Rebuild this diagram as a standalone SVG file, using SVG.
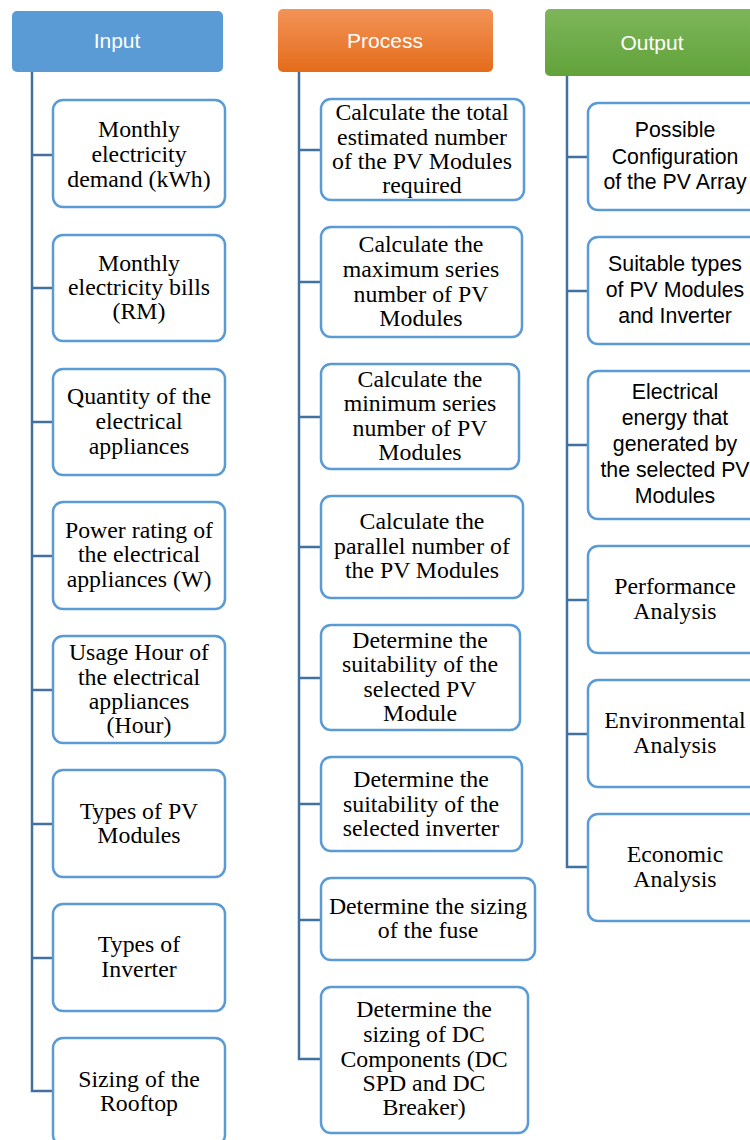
<svg xmlns="http://www.w3.org/2000/svg" width="750" height="1140" viewBox="0 0 750 1140">
<defs>
<linearGradient id="gOr" x1="0" y1="0" x2="0" y2="1"><stop offset="0" stop-color="#F39358"/><stop offset="1" stop-color="#E46C1A"/></linearGradient>
<linearGradient id="gGr" x1="0" y1="0" x2="0" y2="1"><stop offset="0" stop-color="#7DB65A"/><stop offset="1" stop-color="#62A23A"/></linearGradient>
<style>
.box{fill:#fff;stroke:#5B9BD5;stroke-width:2.5}
.conn{fill:none;stroke:#41719C;stroke-width:2.5}
.serif{font-family:"Liberation Serif","Times New Roman",serif;font-size:23.8px;fill:#000;text-anchor:middle}
.sans{font-family:"Liberation Sans",Arial,sans-serif;font-size:21.3px;fill:#000;text-anchor:middle}
.hdr{font-family:"Liberation Sans",Arial,sans-serif;font-size:21px;fill:#fff;text-anchor:middle}
</style>
</defs>
<rect width="750" height="1140" fill="#fff"/>
<g id="connectors">
<path class="conn" d="M32,72 V1091 H53 M32,155 H53 M32,288 H53 M32,422 H53 M32,556 H53 M32,690 H53 M32,824 H53 M32,958 H53"/>
<path class="conn" d="M299,72 V1059 H321 M299,150 H321 M299,282 H321 M299,417 H321 M299,547 H321 M299,678 H321 M299,804 H321 M299,920 H321"/>
<path class="conn" d="M567,76 V867 H588 M567,157 H588 M567,291 H588 M567,445 H588 M567,600 H588 M567,734 H588"/>
</g>
<g id="hdr-input"><rect x="12" y="11" width="211" height="61" rx="5" fill="#5B9BD5"/><text class="hdr" x="117" y="48">Input</text></g>
<g id="hdr-process"><rect x="278" y="9" width="215" height="63" rx="5" fill="url(#gOr)"/><text class="hdr" x="385" y="48">Process</text></g>
<g id="hdr-output"><rect x="545" y="9" width="215" height="67" rx="5" fill="url(#gGr)"/><text class="hdr" x="652" y="50">Output</text></g>

<g id="in1"><rect class="box" x="53" y="100" width="172" height="107" rx="10"/><text class="serif"><tspan x="139" y="137">Monthly</tspan><tspan x="139" y="162">electricity</tspan><tspan x="139" y="187">demand (kWh)</tspan></text></g>
<g id="in2"><rect class="box" x="53" y="235" width="172" height="106" rx="10"/><text class="serif"><tspan x="139" y="271">Monthly</tspan><tspan x="139" y="295">electricity bills</tspan><tspan x="139" y="319">(RM)</tspan></text></g>
<g id="in3"><rect class="box" x="53" y="369" width="172" height="106" rx="10"/><text class="serif"><tspan x="139" y="404">Quantity of the</tspan><tspan x="139" y="429">electrical</tspan><tspan x="139" y="454">appliances</tspan></text></g>
<g id="in4"><rect class="box" x="53" y="502" width="172" height="107" rx="10"/><text class="serif"><tspan x="139" y="538">Power rating of</tspan><tspan x="139" y="562">the electrical</tspan><tspan x="139" y="587">appliances (W)</tspan></text></g>
<g id="in5"><rect class="box" x="53" y="636" width="172" height="107" rx="10"/><text class="serif"><tspan x="139" y="660">Usage Hour of</tspan><tspan x="139" y="685">the electrical</tspan><tspan x="139" y="709">appliances</tspan><tspan x="139" y="733">(Hour)</tspan></text></g>
<g id="in6"><rect class="box" x="53" y="770" width="172" height="107" rx="10"/><text class="serif"><tspan x="139" y="819">Types of PV</tspan><tspan x="139" y="843">Modules</tspan></text></g>
<g id="in7"><rect class="box" x="53" y="904" width="172" height="107" rx="10"/><text class="serif"><tspan x="139" y="952">Types of</tspan><tspan x="139" y="977">Inverter</tspan></text></g>
<g id="in8"><rect class="box" x="53" y="1038" width="172" height="107" rx="10"/><text class="serif"><tspan x="139" y="1087">Sizing of the</tspan><tspan x="139" y="1111">Rooftop</tspan></text></g>

<g id="p1"><rect class="box" x="321" y="99" width="203" height="101" rx="10"/><text class="serif"><tspan x="422" y="120">Calculate the total</tspan><tspan x="422" y="145">estimated number</tspan><tspan x="422" y="169">of the PV Modules</tspan><tspan x="422" y="193">required</tspan></text></g>
<g id="p2"><rect class="box" x="321" y="227" width="201" height="110" rx="10"/><text class="serif"><tspan x="421" y="252">Calculate the</tspan><tspan x="421" y="277">maximum series</tspan><tspan x="421" y="302">number of PV</tspan><tspan x="421" y="326">Modules</tspan></text></g>
<g id="p3"><rect class="box" x="321" y="364" width="198" height="105" rx="10"/><text class="serif"><tspan x="420" y="387">Calculate the</tspan><tspan x="420" y="411">minimum series</tspan><tspan x="420" y="436">number of PV</tspan><tspan x="420" y="460">Modules</tspan></text></g>
<g id="p4"><rect class="box" x="321" y="496" width="202" height="102" rx="10"/><text class="serif"><tspan x="422" y="529">Calculate the</tspan><tspan x="422" y="554">parallel number of</tspan><tspan x="422" y="578">the PV Modules</tspan></text></g>
<g id="p5"><rect class="box" x="321" y="625" width="199" height="105" rx="10"/><text class="serif"><tspan x="420" y="648">Determine the</tspan><tspan x="420" y="672">suitability of the</tspan><tspan x="420" y="697">selected PV</tspan><tspan x="420" y="721">Module</tspan></text></g>
<g id="p6"><rect class="box" x="321" y="757" width="201" height="94" rx="10"/><text class="serif"><tspan x="421" y="787">Determine the</tspan><tspan x="421" y="812">suitability of the</tspan><tspan x="421" y="836">selected inverter</tspan></text></g>
<g id="p7"><rect class="box" x="321" y="878" width="214" height="82" rx="10"/><text class="serif"><tspan x="428" y="914">Determine the sizing</tspan><tspan x="428" y="938">of the fuse</tspan></text></g>
<g id="p8"><rect class="box" x="321" y="987" width="207" height="146" rx="10"/><text class="serif"><tspan x="424" y="1017">Determine the</tspan><tspan x="424" y="1042">sizing of DC</tspan><tspan x="424" y="1067">Components (DC</tspan><tspan x="424" y="1091">SPD and DC</tspan><tspan x="424" y="1115">Breaker)</tspan></text></g>

<g id="o1"><rect class="box" x="588" y="103" width="175" height="107" rx="10"/><text class="sans"><tspan x="675" y="137">Possible</tspan><tspan x="675" y="164">Configuration</tspan><tspan x="675" y="189">of the PV Array</tspan></text></g>
<g id="o2"><rect class="box" x="588" y="237" width="175" height="107" rx="10"/><text class="sans"><tspan x="675" y="271">Suitable types</tspan><tspan x="675" y="297">of PV Modules</tspan><tspan x="675" y="323">and Inverter</tspan></text></g>
<g id="o3"><rect class="box" x="588" y="371" width="175" height="148" rx="10"/><text class="sans"><tspan x="675" y="399">Electrical</tspan><tspan x="675" y="425">energy that</tspan><tspan x="675" y="451">generated by</tspan><tspan x="675" y="477">the selected PV</tspan><tspan x="675" y="503">Modules</tspan></text></g>
<g id="o4"><rect class="box" x="588" y="546" width="175" height="107" rx="10"/><text class="serif"><tspan x="675" y="594">Performance</tspan><tspan x="675" y="619">Analysis</tspan></text></g>
<g id="o5"><rect class="box" x="588" y="680" width="175" height="107" rx="10"/><text class="serif"><tspan x="675" y="728">Environmental</tspan><tspan x="675" y="753">Analysis</tspan></text></g>
<g id="o6"><rect class="box" x="588" y="814" width="175" height="107" rx="10"/><text class="serif"><tspan x="675" y="862">Economic</tspan><tspan x="675" y="887">Analysis</tspan></text></g>
</svg>
